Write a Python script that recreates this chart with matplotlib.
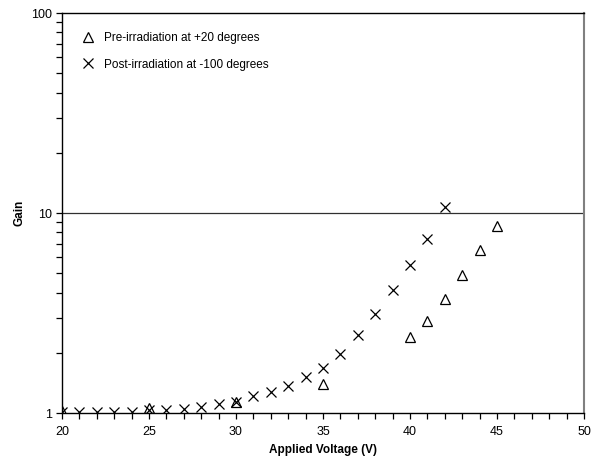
import matplotlib
matplotlib.use("Agg")
import matplotlib.pyplot as plt
from matplotlib.ticker import MultipleLocator, LogLocator, NullFormatter, FixedLocator

plt.rcParams['font.family'] = ['Liberation Sans', 'DejaVu Sans']

# post-irradiation at -100 degrees
post_v = list(range(20, 43))
post_gain = [1.01, 1.01, 1.01, 1.01, 1.01, 1.04, 1.04, 1.045, 1.075, 1.11, 1.135,
             1.21, 1.28, 1.37, 1.52, 1.68, 1.97, 2.45, 3.13, 4.12, 5.51, 7.39, 10.75]

# pre-irradiation at +20 degrees
pre_v = [20, 25, 30, 35, 40, 41, 42, 43, 44, 45]
pre_gain = [1.02, 1.06, 1.13, 1.39, 2.40, 2.89, 3.72, 4.92, 6.53, 8.61]

fig = plt.figure(figsize=(5.95, 4.61), dpi=100)
ax = fig.add_axes([0.1042, 0.1041, 0.8773, 0.8677])

ax.plot(pre_v, pre_gain, linestyle='none', marker='^', markersize=7,
        markerfacecolor='none', markeredgecolor='black', markeredgewidth=0.9,
        label='Pre-irradiation at +20 degrees')
ax.plot(post_v, post_gain, linestyle='none', marker='x', markersize=7.5,
        color='black', markeredgewidth=0.9,
        label='Post-irradiation at -100 degrees')

ax.set_yscale('log')
ax.set_xlim(20, 50)
ax.set_ylim(1, 100)

ax.xaxis.set_major_locator(MultipleLocator(5))
ax.xaxis.set_minor_locator(MultipleLocator(1))
ax.yaxis.set_major_locator(FixedLocator([1, 10, 100]))
ax.yaxis.set_major_formatter(plt.FuncFormatter(lambda v, p: f"{v:g}"))
ax.yaxis.set_minor_locator(LogLocator(base=10, subs=range(2, 10)))
ax.yaxis.set_minor_formatter(NullFormatter())

ax.tick_params(axis='both', which='both', direction='out', labelsize=9,
               color='black', width=0.9, length=4)
ax.tick_params(axis='x', which='major', pad=5)

ax.axhline(10, color='#303030', linewidth=0.9, zorder=0)

for s in ['left', 'bottom', 'top']:
    ax.spines[s].set_color('black')
    ax.spines[s].set_linewidth(1.0)
ax.spines['right'].set_color('#808080')
ax.spines['right'].set_linewidth(1.5)

ax.set_xlabel('Applied Voltage (V)', fontsize=8.5, fontweight='bold', labelpad=5)
ax.set_ylabel('Gain', fontsize=8.5, fontweight='bold', labelpad=4)

ax.legend(loc='upper left', frameon=False, fontsize=8.5, handletextpad=0.8,
          handlelength=1.0, labelspacing=1.2, borderaxespad=0.9,
          bbox_to_anchor=(0.01, 0.99))

fig.savefig('out.png', dpi=100)
